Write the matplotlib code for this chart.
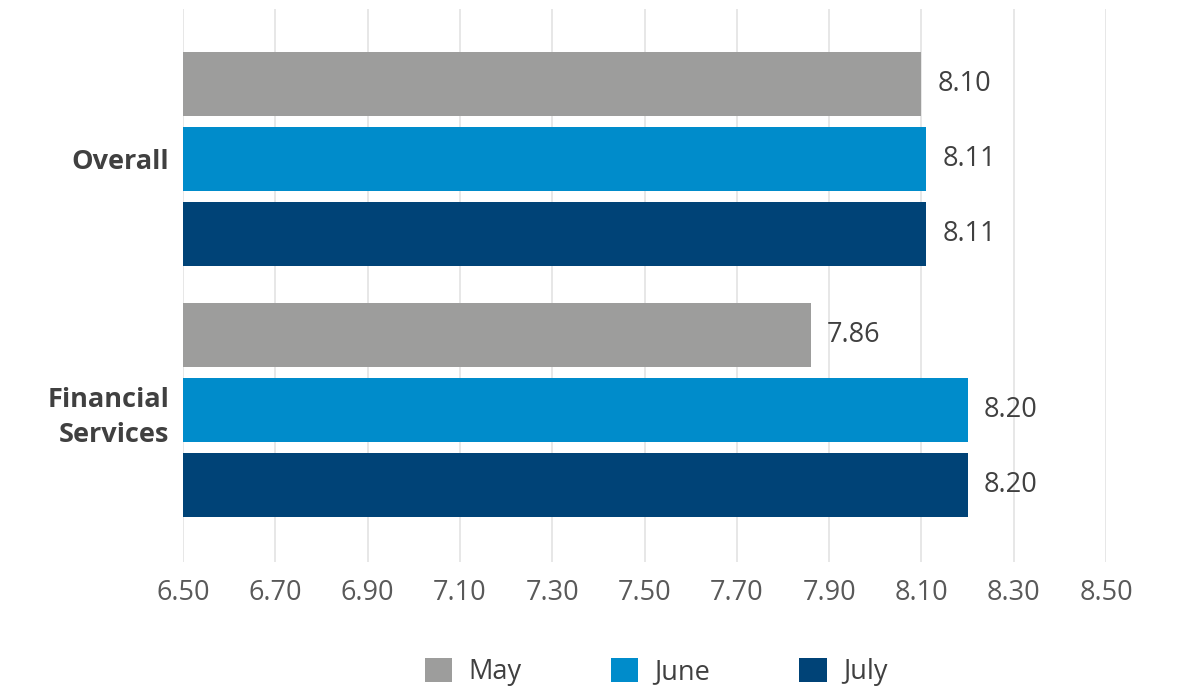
import matplotlib
matplotlib.use("Agg")
import matplotlib.pyplot as plt
from matplotlib.patches import Patch
import numpy as np

categories = ["Overall", "Financial\nServices"]
series_names = ["May", "June", "July"]
may = [8.10, 7.86]
june = [8.11, 8.20]
july = [8.11, 8.20]
xticks = [6.50, 6.70, 6.90, 7.10, 7.30, 7.50, 7.70, 7.90, 8.10, 8.30, 8.50]

colors = ["#9D9D9C", "#008CCB", "#004377"]
font = ["Open Sans", "DejaVu Sans"]
plt.rcParams['font.family'] = font

fig = plt.figure(figsize=(11.78, 6.92), dpi=100)
ax = fig.add_axes([183/1178, 1-562/692, (1106-183)/1178, (562-9)/692])

y = np.arange(len(categories))
offsets = [-0.2988, 0.0, 0.2988]
h = 0.255
for vals, off, c in zip([may, june, july], offsets, colors):
    bars = ax.barh(y + off, np.array(vals) - 6.5, left=6.5, height=h, color=c, zorder=3)
    for b, v in zip(bars, vals):
        ax.text(v + 0.035, b.get_y() + b.get_height()/2, f"{v:.2f}", va="center", ha="left",
                fontsize=19.5, color="#404040", zorder=4)

ax.set_xlim(6.5, 8.5)
ax.set_ylim(1.606, -0.598)
ax.set_xticks(xticks)
ax.set_xticklabels([f"{t:.2f}" for t in xticks], fontsize=19.5, color="#595959")
ax.set_yticks(y)
ax.set_yticklabels(categories, fontsize=19.5, fontweight="bold", color="#404040", linespacing=1.45)
ax.tick_params(axis="both", length=0)
ax.tick_params(axis="x", pad=12)
ax.tick_params(axis="y", pad=10)
for s in ax.spines.values():
    s.set_visible(False)
ax.grid(axis="x", color="#E3E3E3", linewidth=1.2, zorder=0)
ax.set_axisbelow(True)

handles = [Patch(facecolor=c, label=n) for c, n in zip(colors, series_names)]
leg = fig.legend(handles=handles, loc="center", bbox_to_anchor=(0.557, 1-672/692), ncol=3,
                 frameon=False, fontsize=19.5, handlelength=1.0, handleheight=1.0,
                 handletextpad=0.6, columnspacing=3.3)
for t in leg.get_texts():
    t.set_color("#404040")

fig.savefig("out.png", dpi=100)
